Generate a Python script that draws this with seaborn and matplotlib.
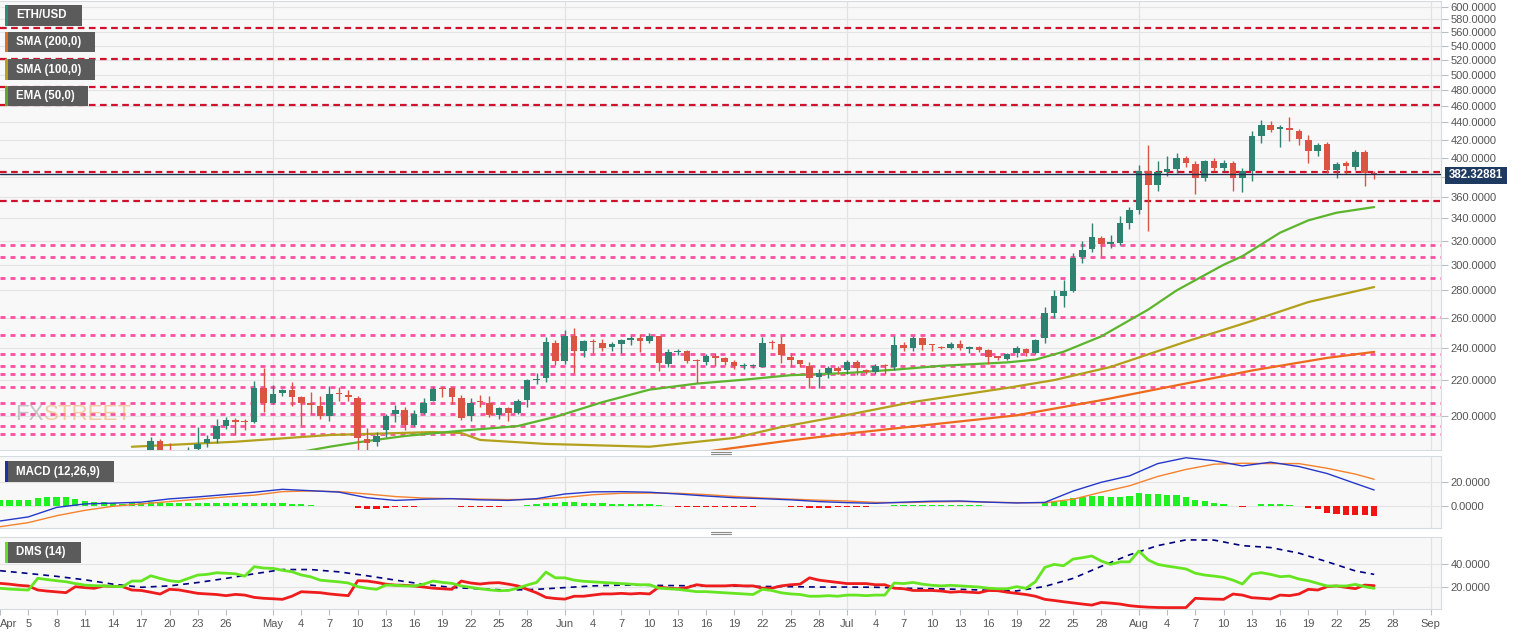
import matplotlib
matplotlib.use("Agg")
import matplotlib.pyplot as plt
import matplotlib.dates as mdates
import matplotlib.ticker as mticker
from matplotlib.patches import Rectangle
from matplotlib.lines import Line2D
import numpy as np
import pandas as pd
import seaborn as sns

W, H = 1531, 635

# ---------------- data ----------------
candle_dates = pd.date_range("2020-04-18", "2020-08-26", freq="D")
opens = [
    # Apr 18-30
    171, 187, 180, 171, 171, 183, 186, 188, 194.5, 197.5, 196.8, 196.5, 215.5,
    # May
    207, 212.3, 214.3, 210.3, 207.2, 205.5, 200, 212.5, 211.5, 209.6,
    187.7, 186.3, 192.5, 200.9, 203.1, 195.1, 201.4, 207.8, 215.4, 215.4,
    209.6, 200, 208, 207, 200.5, 204, 201.6, 208.6, 220, 221.1, 243.4,
    # Jun
    231.5, 248, 238, 244, 243.2, 240.6, 242.3, 245.4, 246.4, 244.4,
    247.5, 229.9, 237.5, 238, 232, 230.9, 234.7, 233.4, 230.9, 228.3,
    228.3, 227.9, 243.5, 242.8, 234.1, 232, 228.8, 221.7, 224.5, 227.1,
    # Jul
    226, 230.9, 226.4, 225, 228.9, 227.7, 241.7, 239.8, 246.5, 242,
    240.6, 239.8, 242.8, 239.5, 240.4, 238.6, 234.2, 232.7, 236.6, 239.2,
    236.6, 246.1, 263.3, 275.5, 279.6, 306.4, 312.9, 322.5, 317.6, 318.2, 335.9,
    # Aug 1-26
    347.1, 385.7, 371.4, 384.9, 388.4, 399.7, 393.3, 379.2, 396.2, 389.1,
    394.4, 378.6, 385.7, 423.6, 437.1, 432, 433, 429.3, 419.8, 406.7,
    415.1, 387.3, 394.4, 389.8, 405.9, 383.8,
]
highs = [
    189, 188, 186, 176, 184, 194, 190, 198, 199.5, 199, 198.5, 219.5, 227.5,
    217, 215, 219, 210.8, 213, 211, 216.5, 216, 214.5, 211,
    193.5, 191.5, 201, 206, 204.5, 203, 210, 216, 216, 216,
    211.5, 209.5, 211.5, 211, 205, 205, 209, 221, 224.5, 247, 245,
    251.5, 253, 245, 246, 246, 243.8, 246, 248, 249, 249.5,
    248, 239, 239.5, 238.5, 233, 236, 237, 234, 232, 230.5,
    230, 247, 245, 247.5, 237, 232.5, 231, 227, 228.5, 228.5,
    232, 232, 227, 230, 229.5, 248, 244, 247.5, 247, 242.3,
    241.5, 244, 245, 241.5, 241.2, 239, 234.5, 236.5, 241, 240,
    246, 268, 280.2, 288, 309.5, 319.7, 335.3, 323.9, 325.3, 342.3, 350.8,
    392.7, 414.4, 396.9, 401.5, 405, 401.5, 396.2, 397, 399.5, 398,
    396.2, 389.1, 429.3, 443, 441, 437, 445.7, 432.4, 424.6, 416,
    417.3, 395.5, 396.5, 408.5, 408.5, 385.7,
]
lows = [
    170, 178, 170, 166, 170, 180, 184, 186, 193, 190, 192.5, 196, 202,
    206.5, 211, 205.5, 195, 201, 198.5, 197, 208, 208, 179,
    178, 184.5, 189, 196.5, 192.5, 194.5, 201, 207.8, 210.5, 206.5,
    197.5, 197, 205, 199.5, 198, 197, 201, 205, 218, 219, 229,
    229.5, 224.5, 234, 236.7, 238, 238, 236.5, 241.7, 237.5, 243,
    225.5, 228, 235.5, 230.3, 218.5, 229, 228.5, 229, 227, 227,
    227.5, 227.7, 239, 230.3, 228, 228, 215.5, 215.5, 221.5, 224,
    223.5, 223, 223.5, 223.8, 224, 226, 238, 238, 238.6, 238,
    239, 239, 238.5, 237, 237.4, 230, 232.4, 232, 234, 235,
    236, 243, 260, 267.5, 279, 301.2, 310.6, 307.5, 313.5, 316, 330,
    344, 328.5, 366, 381, 384, 390, 362.8, 376, 385.5, 385.5,
    366, 364.3, 375.3, 416.2, 428, 411.5, 418, 414.4, 394.4, 401.5,
    383.8, 379.2, 383, 387, 370.3, 377.4,
]
closes = [
    187, 180, 171, 171, 182.5, 185.5, 188, 194.4, 197.5, 196.8, 196.5, 215.5, 207,
    212, 214.3, 210.5, 207, 206, 200, 212, 212, 210.5, 188.3,
    185.7, 189.6, 200, 203.1, 195.1, 200.9, 207, 214.7, 214.7, 210.2,
    198.6, 207, 207.5, 200.5, 204, 201.3, 208.3, 220.1, 220.5, 243.8, 231.5,
    247.5, 238, 244.4, 243.5, 240.2, 242.3, 245, 246.4, 244.4, 247.5,
    230.3, 237.4, 238, 231.5, 231.5, 234.7, 233.6, 231.3, 228.8, 228.6,
    228.6, 243.2, 243.2, 235.2, 232.4, 229.9, 221.1, 224.5, 227.1, 225.5,
    230.9, 227.1, 225, 228.8, 228.5, 241.7, 239.8, 246.5, 242.1, 241.7,
    239.8, 242.8, 239.8, 240, 238.6, 234, 233.8, 235.9, 239.8, 236.6,
    245.4, 263.3, 275.5, 279.6, 305.5, 312.3, 323.1, 317.6, 318.2, 335.9, 347.1,
    385.7, 371.4, 384.6, 388.4, 399.7, 394.4, 379.2, 396.2, 389.1, 394.4,
    379.2, 385.7, 423.6, 437.1, 431.3, 434, 431.3, 420.9, 406.7, 414.4,
    387.3, 393.3, 390.9, 405.9, 383.8, 382.3,
]
last_price = 382.32881

# moving averages
ema50_dates = ["2020-05-04", "2020-05-07", "2020-05-10", "2020-05-15", "2020-05-21",
               "2020-05-27", "2020-05-31", "2020-06-05", "2020-06-10", "2020-06-15",
               "2020-06-20", "2020-06-25", "2020-07-01", "2020-07-06", "2020-07-11",
               "2020-07-18", "2020-07-21", "2020-07-24", "2020-07-28", "2020-08-02",
               "2020-08-05", "2020-08-10", "2020-08-12", "2020-08-16", "2020-08-19",
               "2020-08-22", "2020-08-26"]
ema50 = [181.5, 184.0, 186.2, 189.4, 192.1, 194.5, 199.4, 207.4, 214.5, 218.0,
         220.3, 223.0, 224.3, 226.3, 228.7, 230.8, 232.5, 237.5, 247.5, 266.0,
         280.0, 300.0, 307.0, 327.0, 338.0, 345.0, 350.3]
sma100_dates = ["2020-04-16", "2020-04-27", "2020-05-07", "2020-05-18", "2020-05-21",
                "2020-05-23", "2020-05-30", "2020-06-10", "2020-06-19", "2020-06-24",
                "2020-07-01", "2020-07-08", "2020-07-18", "2020-07-23", "2020-07-29",
                "2020-08-06", "2020-08-13", "2020-08-19", "2020-08-26"]
sma100 = [184.0, 186.5, 189.9, 191.4, 190.9, 187.4, 185.4, 184.0, 188.4, 194.0,
          200.4, 207.5, 215.5, 220.1, 228.0, 244.0, 258.0, 271.4, 282.6]
sma200_dates = ["2020-06-10", "2020-06-17", "2020-06-25", "2020-07-01", "2020-07-08",
                "2020-07-19", "2020-07-28", "2020-08-05", "2020-08-13", "2020-08-21",
                "2020-08-26"]
sma200 = [178.0, 182.2, 187.2, 190.6, 194.3, 200.2, 208.5, 217.0, 225.8, 233.6, 237.4]

red_levels = [567.1, 521.3, 483.2, 460.8, 384.6, 356.3]
pink_levels = [316.4, 306.6, 289.7, 260.5, 248.4, 236.0, 228.6, 223.7, 215.9,
               206.9, 200.8, 194.5, 190.6]

# MACD (12,26,9)
hist_dates = pd.date_range("2020-04-02", "2020-08-26", freq="D")
macd_hist = [
    # Apr 2-30
    4.9, 4.9, 4.9, 4.9, 6.3, 7.1, 7.7, 7.1, 5.4, 4.3, 3.4, 2.8, 2.0, 1.4, 2.0,
    2.0, 2.8, 2.8, 2.6, 2.0, 2.0, 2.0, 2.0, 2.0, 2.0, 2.0, 2.0, 2.6, 2.6,
    # May
    2.0, 2.0, 1.4, 1.1, 0.3, -0.2, -0.2, -0.3, -0.3, -2.3, -2.8, -3.1, -2.3,
    -1.4, -1.4, -0.85, -0.3, -0.1, 0.1, 0.1, -0.85, -0.85, -0.85, -0.85, -0.85,
    -0.5, -0.2, 0.5, 1.2, 2.5, 2.5,
    # Jun
    3.0, 2.8, 2.5, 2.2, 2.0, 1.8, 1.8, 1.6, 1.4, 1.2, 0.2, -0.6, -0.9, -1.2,
    -1.3, -1.2, -1.1, -1.0, -1.1, -1.1, -1.0, -0.3, -0.1, -0.5, -0.9, -1.2,
    -1.6, -1.7, -1.6, -1.4,
    # Jul
    -1.1, -0.9, -0.8, -0.6, -0.5, 0.2, 0.4, 0.7, 0.7, 0.6, 0.5, 0.5, 0.4, 0.3,
    0.2, -0.1, -0.3, -0.3, -0.3, -0.3, -0.2, 2.0, 2.8, 4.3, 6.3, 7.7, 8.5, 8.5,
    7.7, 7.7, 8.5,
    # Aug 1-26
    10.5, 10.2, 10.0, 9.4, 9.1, 7.7, 4.8, 4.0, 2.5, 1.1, -0.3, -1.4, -0.3, 1.1,
    1.1, 1.1, 0.5, -0.3, -2.3, -3.1, -6.0, -7.1, -7.9, -7.9, -7.9, -8.8,
]
line_dates = pd.date_range("2020-04-02", "2020-08-24", freq="3D").append(
    pd.DatetimeIndex(["2020-08-26"]))
macd_line = [-13.1, -9.6, -1.5, 1.5, 2.2, 3.0, 5.8, 7.5, 9.5, 11.5,
             14.0, 12.8, 11.6, 6.8, 4.5, 5.5, 6.0, 5.0, 4.5, 6.0,
             10.0, 11.8, 12.0, 11.5, 10.0, 8.3, 6.8, 6.0, 5.0, 3.5,
             2.6, 2.0, 3.0, 3.8, 4.0, 3.0, 2.3, 2.8, 12.5, 20.0,
             25.5, 36.0, 41.0, 38.5, 34.0, 37.2, 33.5, 27.5, 19.0, 13.4]
signal_line = [-18.0, -14.5, -8.6, -4.0, -0.5, 1.5, 3.5, 5.5, 7.5, 9.0,
               12.0, 12.6, 12.0, 10.0, 7.8, 6.5, 6.0, 5.6, 5.2, 5.5,
               7.0, 9.4, 10.6, 10.8, 10.6, 9.5, 7.9, 6.6, 5.6, 4.7,
               4.0, 2.8, 2.6, 3.2, 3.6, 3.0, 2.6, 2.5, 5.5, 11.5,
               17.0, 25.0, 31.0, 35.5, 36.3, 36.0, 36.0, 32.0, 27.0, 22.6]

# DMS (14)
plus_di = [
    18.9, 18.2, 17.8, 17.4, 27.6, 26.5, 25.5, 24.6, 23.0, 21.7, 21.2, 21.0, 20.5,
    20.3, 25.2, 25.2, 29.8, 27.5, 25.5, 24.6, 27.5, 30.4, 31.0, 32.4, 32.0, 31.5,
    29.5, 37.7, 36.5,
    36.2, 34.5, 33.3, 30.5, 28.9, 26.0, 25.2, 24.5, 23.5, 20.3, 19.0, 18.0, 21.7,
    21.5, 21.0, 20.9, 22.5, 25.2, 24.0, 23.2, 21.0, 19.7, 18.5, 17.5, 16.8, 17.0,
    19.0, 21.7, 24.0, 33.0, 28.0,
    28.0, 26.0, 25.0, 24.5, 24.0, 23.5, 23.0, 22.5, 22.0, 22.0, 19.0, 18.5, 18.0,
    17.0, 16.0, 16.0, 15.5, 15.0, 14.5, 14.0, 13.5, 18.0, 17.0, 15.0, 14.0, 13.5,
    12.0, 12.0, 12.5, 12.0,
    13.0, 13.0, 12.5, 13.0, 13.0, 23.5, 23.0, 24.0, 22.5, 21.5, 21.0, 21.5, 21.0,
    20.5, 20.0, 19.0, 18.5, 18.5, 20.3, 18.9, 24.6, 37.1, 39.7, 38.5, 44.3, 45.5,
    47.0, 42.6, 39.7, 41.9, 41.9,
    51.3, 43.5, 39.7, 38.2, 37.0, 35.7, 32.0, 30.4, 29.5, 28.4, 26.0, 22.6, 31.3,
    32.5, 31.0, 29.0, 29.5, 27.0, 25.5, 23.2, 20.9, 20.9, 20.9, 22.3, 20.3, 18.9,
]
minus_di = [
    23.2, 22.5, 21.5, 20.9, 17.4, 16.5, 15.8, 15.1, 20.3, 19.5, 18.9, 20.9, 20.5,
    20.3, 17.4, 17.0, 15.5, 13.9, 18.0, 17.5, 16.0, 14.5, 14.0, 13.5, 12.5, 13.6,
    13.0, 11.0, 10.2,
    9.8, 9.3, 12.0, 15.9, 15.5, 15.1, 14.0, 13.2, 12.5, 25.5, 25.2, 24.0, 22.5,
    21.7, 21.5, 20.9, 20.0, 19.0, 18.5, 18.0, 25.2, 23.5, 22.6, 23.5, 23.8, 22.5,
    21.0, 18.0, 15.0, 11.0, 10.0,
    9.5, 12.0, 12.0, 13.0, 14.0, 14.0, 14.5, 14.0, 14.5, 14.0, 20.0, 19.0, 18.5,
    19.5, 22.0, 21.0, 21.0, 21.0, 21.5, 21.0, 21.0, 19.0, 19.0, 21.0, 22.0, 22.5,
    28.0, 26.0, 25.0, 24.0,
    23.0, 23.0, 23.0, 22.0, 22.0, 19.0, 18.5, 17.0, 17.0, 17.0, 16.5, 15.5, 16.0,
    15.5, 15.0, 17.0, 16.8, 15.5, 14.5, 13.5, 12.0, 9.3, 8.3, 7.2, 6.2, 5.2,
    4.3, 6.6, 6.0, 5.2, 3.8,
    3.0, 2.5, 2.2, 2.1, 2.1, 2.1, 10.2, 9.8, 9.5, 9.3, 13.9, 13.0, 10.7,
    10.2, 9.6, 13.0, 12.5, 13.9, 18.0, 17.4, 20.3, 20.9, 19.7, 18.6, 21.7, 21.2,
]
adx = [34.2, 31.8, 29.3, 26.3, 22.5, 19.8, 21.0, 23.9, 27.5, 31.5,
       35.2, 35.2, 33.2, 29.8, 26.0, 22.4, 19.6, 18.4, 17.3, 18.0,
       19.5, 21.0, 21.7, 21.5, 21.2, 21.0, 20.8, 20.5, 20.3, 20.0,
       20.0, 19.8, 19.0, 18.5, 18.0, 17.2, 16.6, 20.5, 27.5, 38.0,
       48.0, 56.0, 61.0, 60.8, 56.0, 54.3, 49.5, 42.0, 34.0, 31.0]

# x axis labels
month_ticks = [("2020-04", "Apr", 2, [5, 8, 11, 14, 17, 20, 23, 26]),
               ("2020-05", "May", 1, [4, 7, 10, 13, 16, 19, 22, 25, 28]),
               ("2020-06", "Jun", 1, [4, 7, 10, 13, 16, 19, 22, 25, 28]),
               ("2020-07", "Jul", 1, [4, 7, 10, 13, 16, 19, 22, 25, 28]),
               ("2020-08", "Aug", 1, [4, 7, 10, 13, 16, 19, 22, 25, 28]),
               ("2020-09", "Sep", 1, [])]

# ---------------- style ----------------
sns.set_style("white")
plt.rcParams["font.family"] = ["Liberation Sans", "DejaVu Sans"]

PANEL_BG = "#f8f8f8"
GRID = "#e4e4e4"
TXT = "#555555"
UP, DOWN = "#2d8270", "#db5443"

fig = plt.figure(figsize=(W / 100, H / 100), dpi=100)
fig.patch.set_facecolor("white")


def px_axes(x0, y0, x1, y1, **kw):
    return fig.add_axes([x0 / W, 1 - y1 / H, (x1 - x0) / W, (y1 - y0) / H], **kw)


ax = px_axes(0, 1, 1441, 450)
ax_macd = px_axes(0, 456, 1441, 528, sharex=ax)
ax_dms = px_axes(0, 537, 1441, 609, sharex=ax)

t0 = mdates.date2num(pd.Timestamp("2020-04-01"))
month_starts = mdates.date2num(pd.to_datetime(
    ["2020-05-01", "2020-06-01", "2020-07-01", "2020-08-01", "2020-09-01"]))

for a in (ax, ax_macd, ax_dms):
    a.set_facecolor(PANEL_BG)
    for side in ("top", "bottom", "right"):
        a.spines[side].set_color("#d6dbe0")
        a.spines[side].set_linewidth(0.8)
    a.spines["left"].set_visible(False)
    a.yaxis.tick_right()
    a.tick_params(axis="y", which="major", direction="out", length=5, width=0.8,
                  color="#b8bec4", labelsize=8, labelcolor=TXT, pad=2)
    a.grid(axis="y", color=GRID, lw=0.8)
    for m in month_starts:
        a.axvline(m, color="#e2e2e2", lw=0.9, zorder=0)
    a.set_axisbelow(True)

# ---------------- main panel ----------------
xc = mdates.date2num(candle_dates)
o, h, l, c = map(np.asarray, (opens, highs, lows, closes))
cols = np.where(c >= o, UP, DOWN)
body_low = np.minimum(o, c)
body_h = np.maximum(np.abs(c - o), body_low * 0.003)

for v in pink_levels:
    ax.axhline(v, color="#ff4fa3", lw=2.0, ls=(0, (1.8, 1.8)), zorder=1)
for v in red_levels:
    ax.axhline(v, color="#d0112b", lw=1.6, ls=(0, (3, 2)), zorder=1)

sns.lineplot(x=mdates.date2num(pd.to_datetime(sma200_dates)), y=sma200, ax=ax,
             color="#ee6a1c", lw=1.6, errorbar=None, zorder=2)
sns.lineplot(x=mdates.date2num(pd.to_datetime(sma100_dates)), y=sma100, ax=ax,
             color="#b3a01c", lw=1.6, errorbar=None, zorder=2)
sns.lineplot(x=mdates.date2num(pd.to_datetime(ema50_dates)), y=ema50, ax=ax,
             color="#5cb52c", lw=1.6, errorbar=None, zorder=2)

ax.vlines(xc, l, h, color=cols, lw=1.0, zorder=3)
ax.bar(xc, body_h, bottom=body_low, width=0.7, color=cols, linewidth=0, zorder=4)
ax.axhline(last_price, color="#1b2f50", lw=1.0, zorder=5)

ax.set_yscale("log")
ax.set_ylim(182.4, 609.3)
main_ticks = np.arange(200, 601, 20)
ax.yaxis.set_major_locator(mticker.FixedLocator(main_ticks))
ax.yaxis.set_minor_locator(mticker.NullLocator())
# the 380 label sits under the last-price tag, as in the source chart
ax.yaxis.set_major_formatter(mticker.FuncFormatter(
    lambda v, p: "" if abs(v - 380) < 1 else f"{v:.4f}"))
ax.set_xlim(t0 + 0.99, t0 + 154.1)

# ---------------- MACD ----------------
xh = mdates.date2num(hist_dates)
hv = np.asarray(macd_hist)
ax_macd.bar(xh, hv, width=0.66, color=np.where(hv >= 0, "#1ff01f", "#f01414"),
            linewidth=0, zorder=2)
xl = mdates.date2num(line_dates)
sns.lineplot(x=xl, y=signal_line, ax=ax_macd, color="#f5822d", lw=1.0, errorbar=None)
sns.lineplot(x=xl, y=macd_line, ax=ax_macd, color="#2538c9", lw=1.0, errorbar=None)
ax_macd.set_ylim(-19.1, 42.5)
ax_macd.set_yticks([0, 20])
ax_macd.yaxis.set_major_formatter(mticker.FuncFormatter(lambda v, p: f"{v:.4f}"))

# ---------------- DMS ----------------
sns.lineplot(x=xl, y=adx, ax=ax_dms, color="#000080", lw=1.2, errorbar=None,
             linestyle=(0, (3.5, 3)))
sns.lineplot(x=xh, y=minus_di, ax=ax_dms, color="#ee1c1c", lw=2.0, errorbar=None)
sns.lineplot(x=xh, y=plus_di, ax=ax_dms, color="#66e622", lw=2.0, errorbar=None)
ax_dms.set_ylim(0.9, 63.5)
ax_dms.set_yticks([20, 40])
ax_dms.yaxis.set_major_formatter(mticker.FuncFormatter(lambda v, p: f"{v:.4f}"))

# x ticks
tick_pos, tick_lab = [], []
for ym, name, first, days in month_ticks:
    tick_pos.append(mdates.date2num(pd.Timestamp(f"{ym}-{first:02d}")))
    tick_lab.append(name)
    for d in days:
        tick_pos.append(mdates.date2num(pd.Timestamp(f"{ym}-{d:02d}")))
        tick_lab.append(str(d))
for a in (ax, ax_macd):
    a.tick_params(axis="x", bottom=False, labelbottom=False)
    a.set_xlabel("")
    a.set_ylabel("")
ax_dms.set_xticks(tick_pos)
ax_dms.set_xticklabels(tick_lab)
ax_dms.tick_params(axis="x", direction="out", length=4, width=0.8, color="#b8bec4",
                   labelsize=8, labelcolor=TXT, pad=3, bottom=True)
ax_dms.get_xticklabels()[0].set_ha("left")
ax_dms.set_xlabel("")
ax_dms.set_ylabel("")


# ---------------- overlays ----------------
def label_box(x0, y0, x1, y1, text, stripe):
    fig.add_artist(Rectangle((x0 / W, 1 - y1 / H), (x1 - x0) / W, (y1 - y0) / H,
                             transform=fig.transFigure, facecolor="#5b5b5b",
                             edgecolor="none", zorder=10))
    fig.add_artist(Rectangle((x0 / W, 1 - y1 / H), 2.5 / W, (y1 - y0) / H,
                             transform=fig.transFigure, facecolor=stripe,
                             edgecolor="none", zorder=11))
    fig.text((x0 + 11) / W, 1 - (y0 + y1) / 2 / H, text, color="white",
             fontsize=8.3, fontweight="bold", va="center", ha="left", zorder=12)


label_box(5, 5, 82, 26, "ETH/USD", "#2e8b7a")
label_box(5, 32, 95, 52, "SMA (200,0)", "#e07020")
label_box(5, 59, 95, 80, "SMA (100,0)", "#b8a020")
label_box(5, 86, 88, 106, "EMA (50,0)", "#5aaa30")
label_box(5, 461, 114, 482, "MACD (12,26,9)", "#2030a0")
label_box(5, 542, 81, 563, "DMS (14)", "#66dd22")

# last price tag
fig.add_artist(Rectangle((1445 / W, 1 - 184 / H), 62 / W, 17 / H,
                         transform=fig.transFigure, facecolor="#1f3a60",
                         edgecolor="none", zorder=10))
fig.text(1476 / W, 1 - 175.5 / H, f"{last_price:.5f}", color="white", fontsize=8.3,
         fontweight="bold", ha="center", va="center", zorder=12)

# panel resize handles
for yy in (451.5, 453.5, 531.5, 533.5):
    fig.add_artist(Line2D([711 / W, 731 / W], [1 - yy / H, 1 - yy / H],
                          transform=fig.transFigure, color="#8a8a8a", lw=0.8))

# watermark
fx = fig.text(15 / W, 1 - 414 / H, "FX", color="#9a9a9a", alpha=0.55, fontsize=16,
              va="center", ha="left")
fig.add_artist(plt.Annotation("STREET", xy=(1.0, 0.5), xycoords=fx, color="#f0a860",
                              alpha=0.55, fontsize=16, va="center", ha="left"))

fig.savefig("out.png", dpi=100, facecolor="white")
